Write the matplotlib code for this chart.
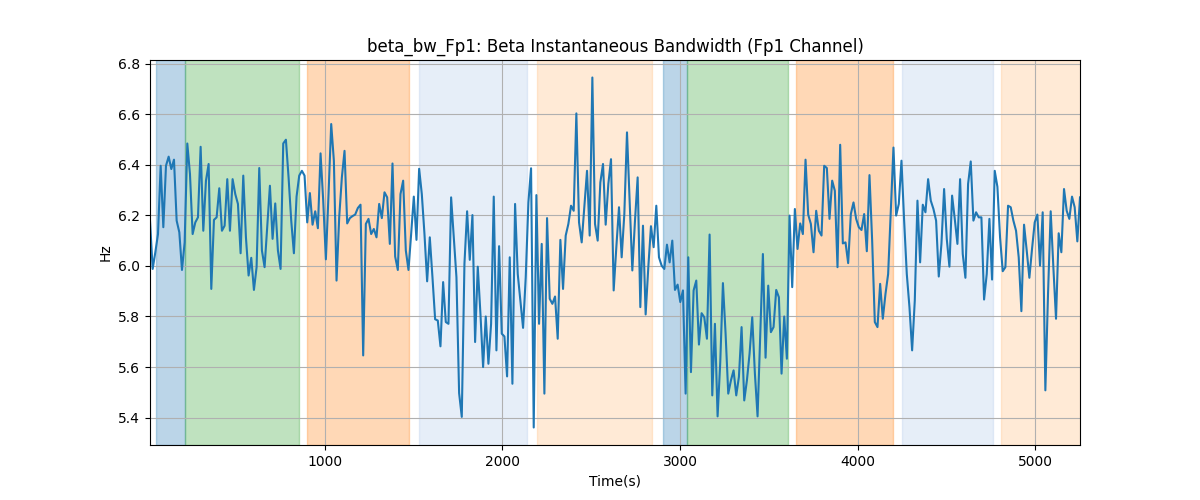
import numpy as np
import matplotlib
matplotlib.use('Agg')
import matplotlib.pyplot as plt

# beta bandwidth samples (one every 15 s)
bw_part1 = [6.179, 5.988, 6.054, 6.126, 6.396, 6.153, 6.396, 6.432, 6.383, 6.420,
            6.179, 6.133, 5.984, 6.093, 6.484, 6.363, 6.126, 6.172, 6.192, 6.471,
            6.139, 6.337, 6.403, 5.909, 6.182, 6.192, 6.307, 6.139, 6.159, 6.343,
            6.139, 6.343, 6.284, 6.245, 6.050, 6.357, 6.113, 5.962, 6.032, 5.905,
            5.995, 6.387, 6.061, 5.995, 6.153, 6.317, 6.107, 6.247, 6.061, 5.988,
            6.484, 6.499, 6.350, 6.179, 6.050, 6.274, 6.357, 6.376, 6.357]
bw_part2 = [6.172, 6.288, 6.163, 6.216, 6.149, 6.445, 6.258, 6.026, 6.284, 6.561,
            6.416, 5.942, 6.192, 6.350, 6.455, 6.168, 6.189, 6.197, 6.203, 6.229,
            6.242, 5.646, 6.166, 6.186, 6.126, 6.146, 6.113, 6.245, 6.189, 6.291,
            6.271, 6.087, 6.405, 6.037, 5.984, 6.284, 6.337, 6.061, 5.984, 6.126,
            6.274, 6.103, 6.384, 6.284, 6.126, 5.939, 6.113, 5.955, 5.789, 5.784,
            5.682, 5.936, 5.778, 5.771, 6.271, 6.113, 5.955, 5.497]
bw_part3 = [5.403, 6.008, 6.216, 6.024, 6.201, 5.699, 5.997, 5.811, 5.600, 5.800,
            5.613, 5.771, 6.274, 5.666, 6.078, 5.732, 5.721, 5.563, 6.034, 5.534,
            6.245, 5.968, 5.863, 5.755, 5.955, 6.251, 6.386, 5.361, 6.280, 5.771,
            6.087, 5.495, 6.189, 5.870, 5.850, 5.879, 5.712, 6.103, 5.909, 6.120,
            6.166, 6.238, 6.218, 6.603, 6.172, 6.093, 6.236, 6.376, 6.120, 6.745,
            6.166, 6.100, 6.330, 6.403, 6.163, 6.324, 6.422, 5.903]
bw_part4 = [6.074, 6.232, 6.034, 6.205, 6.528, 6.258, 5.982, 6.179, 6.350, 5.837,
            6.159, 5.808, 5.995, 6.157, 6.074, 6.238, 6.034, 6.001, 5.988, 6.084,
            6.014, 6.100, 5.905, 5.926, 5.857, 5.903, 5.495, 6.034, 5.580, 5.903,
            5.942, 5.689, 5.813, 5.797, 5.712, 6.124, 5.488, 5.771, 5.405, 5.620,
            5.932, 5.732, 5.495, 5.547, 5.587, 5.488, 5.561, 5.758, 5.468, 5.547,
            5.653, 5.797, 5.574, 5.405, 5.732, 6.047, 5.637, 5.922]
bw_part5 = [5.738, 5.758, 5.905, 5.876, 5.574, 5.800, 5.633, 6.199, 5.916, 6.225,
            6.067, 6.168, 6.126, 6.420, 6.203, 6.166, 6.054, 6.218, 6.139, 6.120,
            6.396, 6.387, 6.186, 6.337, 6.297, 5.995, 6.479, 6.089, 6.093, 6.011,
            6.205, 6.251, 6.186, 6.153, 6.142, 6.205, 6.058, 6.359, 6.100, 5.778,
            5.758, 5.929, 5.791, 5.889, 5.968, 6.218, 6.468, 6.199, 6.245, 6.416,
            6.179, 5.968, 5.837, 5.666, 5.863, 6.258, 6.014, 6.242]
bw_part6 = [6.212, 6.343, 6.258, 6.225, 6.179, 5.958, 6.087, 6.304, 6.107, 5.997,
            6.278, 6.186, 6.087, 6.343, 6.047, 5.953, 6.324, 6.413, 6.179, 6.212,
            6.192, 6.192, 5.867, 5.968, 6.186, 5.946, 6.376, 6.313, 6.113, 5.979,
            5.995, 6.238, 6.232, 6.179, 6.139, 6.034, 5.821, 6.163, 6.061, 5.953,
            6.067, 6.172, 6.203, 6.001, 6.212, 5.508, 5.889, 6.216, 5.995, 5.791,
            6.129, 6.054, 6.304, 6.218, 6.186, 6.274, 6.232, 6.097, 6.271]

bw = np.array(bw_part1 + bw_part2 + bw_part3 + bw_part4 + bw_part5 + bw_part6)
t_start = 16
t_step = 15
times = t_start + t_step * np.arange(len(bw))

# shaded stages: (start, end, colour, alpha)
span_starts = [50, 212, 899, 1528, 2192, 2906, 3041, 3654, 4250, 4807]
span_ends = [212, 852, 1476, 2136, 2844, 3041, 3608, 4198, 4760, 5300]
span_colors = ['tab:blue', 'tab:green', 'tab:orange', '#aec7e8', '#ffbb78',
               'tab:blue', 'tab:green', 'tab:orange', '#aec7e8', '#ffbb78']
span_alphas = [0.3, 0.3, 0.3, 0.3, 0.3, 0.3, 0.3, 0.3, 0.3, 0.3]

fig, ax = plt.subplots(figsize=(12, 5), dpi=100)
for s, e, c, a in zip(span_starts, span_ends, span_colors, span_alphas):
    ax.axvspan(s, e, color=c, alpha=a)
ax.plot(times, bw, color='tab:blue', linewidth=1.5)
ax.set_xlim(times[0], times[-1])
ax.set_title('beta_bw_Fp1: Beta Instantaneous Bandwidth (Fp1 Channel)')
ax.set_xlabel('Time(s)')
ax.set_ylabel('Hz')
ax.grid(True)
fig.savefig('out.png')
